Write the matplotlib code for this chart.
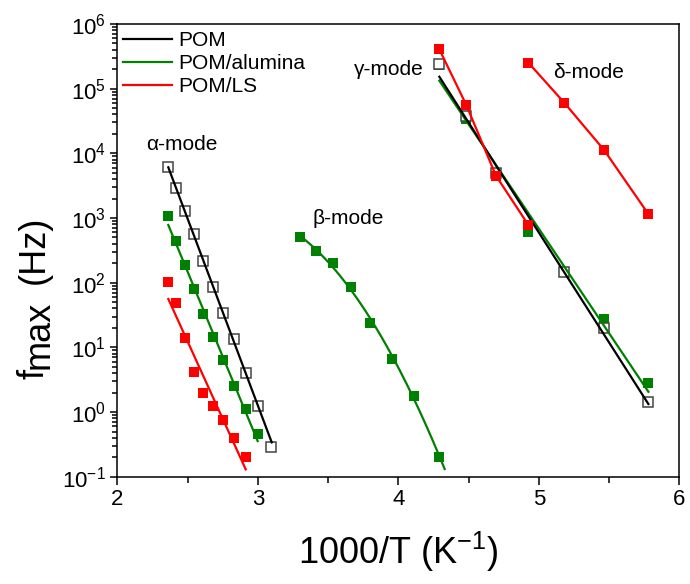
import numpy as np
import matplotlib
matplotlib.use('Agg')
import matplotlib.pyplot as plt
from matplotlib.lines import Line2D
from matplotlib.ticker import LogLocator, MultipleLocator, LogFormatterMathtext, NullFormatter

plt.rcParams['font.family'] = ['Liberation Sans', 'DejaVu Sans']
plt.rcParams['mathtext.fontset'] = 'custom'
plt.rcParams['mathtext.rm'] = 'Liberation Sans'
plt.rcParams['mathtext.it'] = 'Liberation Sans:italic'
plt.rcParams['mathtext.bf'] = 'Liberation Sans:bold'

# alpha-mode (1000/T, f_max in Hz)
x_alpha_pom = [2.364, 2.421, 2.481, 2.545, 2.611, 2.681, 2.755, 2.833, 2.915, 3.003, 3.096]
f_alpha_pom = [6210, 2940, 1300, 566, 219, 86.7, 33.6, 13.4, 4.05, 1.25, 0.291]
x_alpha_alu = [2.364, 2.421, 2.481, 2.545, 2.611, 2.681, 2.755, 2.833, 2.915, 3.003]
f_alpha_alu = [1075, 446, 188, 78.9, 32.8, 14.6, 6.37, 2.55, 1.10, 0.457]
x_alpha_ls = [2.364, 2.421, 2.481, 2.545, 2.611, 2.681, 2.755, 2.833, 2.915]
f_alpha_ls = [101, 48, 13.8, 4.2, 1.99, 1.24, 0.753, 0.392, 0.20]

# beta-mode (POM/alumina only)
x_beta_alu = [3.300, 3.413, 3.534, 3.663, 3.802, 3.953, 4.115, 4.292]
f_beta_alu = [503, 313, 204, 86.7, 23.5, 6.53, 1.79, 0.204]

# gamma-mode
x_gamma_pom = [4.292, 4.484, 4.695, 5.181, 5.464, 5.780]
f_gamma_pom = [2.38e5, 3.78e4, 4910, 148, 20.1, 1.41]
x_gamma_alu = [4.292, 4.484, 4.926, 5.464, 5.780]
f_gamma_alu = [2.3e5, 3.36e4, 614, 27.4, 2.78]
x_gamma_ls = [4.292, 4.484, 4.695, 4.926]
f_gamma_ls = [4.06e5, 5.59e4, 4510, 780]

# delta-mode (POM/LS)
x_delta_ls = [4.926, 5.181, 5.464, 5.780]
f_delta_ls = [2.52e5, 6.07e4, 1.13e4, 1150]

# Arrhenius fit lines, end points
fit_alpha_pom = ([2.363, 3.099], [6080, 0.34])
fit_alpha_alu = ([2.363, 2.999], [780, 0.356])
fit_alpha_ls = ([2.363, 2.914], [56, 0.13])
fit_gamma_pom = ([4.292, 5.780], [1.53e5, 1.33])
fit_gamma_alu = ([4.292, 5.780], [1.33e5, 2.06])

BLACK = '#000000'
GREEN = '#008000'
RED = '#ff0000'

fig = plt.figure(figsize=(6.9, 5.84), dpi=100)
ax = fig.add_axes([0.170, 0.1837, 0.8145, 0.7752])

lw = 1.6
ms = 7

# fit lines
ax.plot(*fit_alpha_pom, color=BLACK, lw=lw, zorder=3)
ax.plot(*fit_alpha_alu, color=GREEN, lw=lw, zorder=3)
ax.plot(*fit_alpha_ls, color=RED, lw=lw, zorder=3)
ax.plot(*fit_gamma_alu, color=GREEN, lw=lw, zorder=3)
ax.plot(*fit_gamma_pom, color=BLACK, lw=lw, zorder=3)

# curved (VFT-like) fit for beta-mode
coef = np.polyfit(x_beta_alu, np.log10(f_beta_alu), 2)
xb = np.linspace(x_beta_alu[0], 4.33, 200)
ax.plot(xb, 10 ** np.polyval(coef, xb), color=GREEN, lw=lw, zorder=3)

# filled squares
sq = dict(marker='s', ms=ms, mew=0, ls='none', zorder=2)
ax.plot(x_alpha_alu, f_alpha_alu, color=GREEN, **sq)
ax.plot(x_alpha_ls, f_alpha_ls, color=RED, **sq)
ax.plot(x_beta_alu, f_beta_alu, color=GREEN, **sq)
ax.plot(x_gamma_alu, f_gamma_alu, color=GREEN, **sq)

# open squares for POM
ax.plot(x_alpha_pom, f_alpha_pom, marker='s', ms=ms, ls='none', mfc='white',
        mec='#444444', mew=1.1, zorder=2.5)
ax.plot(x_gamma_pom, f_gamma_pom, marker='s', ms=ms, ls='none', mfc='white',
        mec='#444444', mew=1.1, zorder=2.5)

# POM/LS gamma and delta joined point to point
ax.plot(x_gamma_ls, f_gamma_ls, color=RED, lw=lw, marker='s', ms=ms, mew=0, zorder=4)
ax.plot(x_delta_ls, f_delta_ls, color=RED, lw=lw, marker='s', ms=ms, mew=0, zorder=4)

ax.set_yscale('log')
ax.set_xlim(2, 6)
ax.set_ylim(1e-1, 1e6)
ax.xaxis.set_major_locator(MultipleLocator(1))
ax.xaxis.set_minor_locator(MultipleLocator(0.5))
ax.yaxis.set_major_locator(LogLocator(base=10, numticks=20))
ax.yaxis.set_minor_locator(LogLocator(base=10, subs=np.arange(2, 10), numticks=20))
ax.yaxis.set_major_formatter(LogFormatterMathtext())
ax.yaxis.set_minor_formatter(NullFormatter())

for s in ax.spines.values():
    s.set_linewidth(1.1)
ax.tick_params(which='both', direction='out', top=False, right=False, width=1.1,
               labelsize=16)
ax.tick_params(axis='x', which='major', length=6, pad=3)
ax.tick_params(axis='x', which='minor', length=4)
ax.tick_params(axis='y', which='major', length=5, pad=3)
ax.tick_params(axis='y', which='minor', length=3.3)

ax.set_xlabel('1000/T (K$^{\\mathregular{-1}}$)', fontsize=26, labelpad=14)

# y label: Origin style, subscript kept at full size and only lowered
fig.canvas.draw()
renderer = fig.canvas.get_renderer()
W, H = fig.get_size_inches() * fig.dpi
ylab_parts = [('f', 0), ('max', 5), ('(Hz)', 0)]
ylab_gaps = [0, 0, 16]
ypos = 205
for (txt, drop), gap in zip(ylab_parts, ylab_gaps):
    ypos += gap
    t = fig.text((44 + drop) / W, ypos / H, txt, rotation=90, rotation_mode='anchor',
                 ha='left', va='baseline', fontsize=26)
    ypos += t.get_window_extent(renderer).height

# mode labels
ax.text(2.460, 1.39e4, 'α-mode', fontsize=15, ha='center', va='center')
ax.text(3.642, 1.0e3, 'β-mode', fontsize=15, ha='center', va='center')
ax.text(3.934, 2.0e5, 'γ-mode', fontsize=15, ha='center', va='center')
ax.text(5.357, 1.81e5, 'δ-mode', fontsize=15, ha='center', va='center')

handles = [Line2D([], [], color=BLACK, lw=lw),
           Line2D([], [], color=GREEN, lw=lw),
           Line2D([], [], color=RED, lw=lw)]
ax.legend(handles, ['POM', 'POM/alumina', 'POM/LS'], loc='upper left',
          bbox_to_anchor=(0.0107, 0.985), frameon=False, fontsize=15,
          borderpad=0, borderaxespad=0, handlelength=2.35, handletextpad=0.3,
          labelspacing=0.2)

fig.savefig('out.png', dpi=100)
